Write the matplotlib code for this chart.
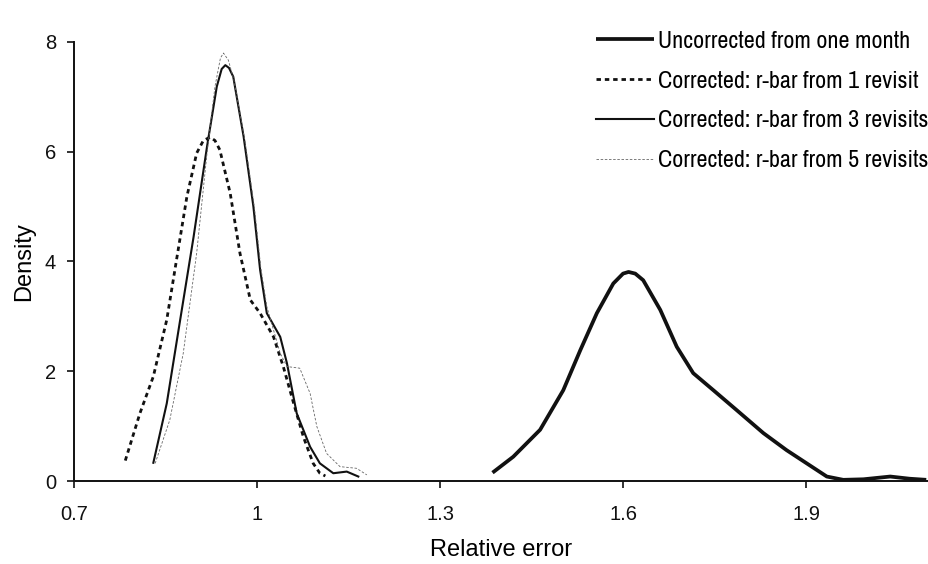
import numpy as np
import matplotlib
matplotlib.use("Agg")
import matplotlib.pyplot as plt
from matplotlib import font_manager

plt.rcParams["font.family"] = ["Liberation Sans", "DejaVu Sans"]

names = sorted({f.name for f in font_manager.fontManager.ttflist})
narrow = [n for n in names if "Narrow" in n or "Condensed" in n]

# ── Density curves (relative error, density) ──
uncorr_x = [1.386, 1.420, 1.464, 1.502, 1.530, 1.557, 1.584, 1.600, 1.609, 1.620,
            1.633, 1.661, 1.688, 1.715, 1.748, 1.786, 1.830, 1.868, 1.901,
            1.934, 1.961, 1.994, 2.038, 2.070, 2.097]
uncorr_y = [0.16, 0.45, 0.94, 1.66, 2.39, 3.06, 3.60, 3.78, 3.81, 3.78,
            3.66, 3.12, 2.45, 1.97, 1.66, 1.30, 0.88, 0.57, 0.33,
            0.09, 0.03, 0.04, 0.09, 0.05, 0.03]

rev1_x = [0.784, 0.808, 0.830, 0.852, 0.868, 0.885, 0.901, 0.912, 0.923, 0.931,
          0.939, 0.956, 0.972, 0.989, 1.005, 1.027, 1.043, 1.060, 1.076,
          1.092, 1.103, 1.112]
rev1_y = [0.38, 1.24, 1.91, 2.94, 4.03, 5.18, 5.97, 6.20, 6.26, 6.20,
          6.03, 5.24, 4.15, 3.30, 3.06, 2.63, 2.09, 1.42, 0.81,
          0.33, 0.15, 0.10]

rev3_x = [0.830, 0.852, 0.874, 0.896, 0.918, 0.934, 0.942, 0.948, 0.954, 0.961,
          0.978, 0.994, 1.005, 1.016, 1.038, 1.049, 1.065, 1.087, 1.103,
          1.125, 1.147, 1.166]
rev3_y = [0.34, 1.42, 2.94, 4.45, 6.09, 7.18, 7.50, 7.57, 7.52, 7.36,
          6.27, 5.00, 3.85, 3.06, 2.63, 2.15, 1.24, 0.63, 0.33,
          0.15, 0.18, 0.09]

rev5_x = [0.833, 0.857, 0.879, 0.901, 0.918, 0.931, 0.940, 0.945, 0.953, 0.962,
          0.980, 0.996, 1.006, 1.016, 1.038, 1.049, 1.070, 1.087, 1.098,
          1.114, 1.136, 1.163, 1.180]
rev5_y = [0.33, 1.12, 2.33, 4.15, 5.97, 7.18, 7.70, 7.79, 7.66, 7.30,
          6.20, 4.95, 3.90, 3.18, 2.33, 2.09, 2.06, 1.60, 1.00,
          0.51, 0.27, 0.24, 0.12]

labels = ["Uncorrected from one month",
          "Corrected: r-bar from 1 revisit",
          "Corrected: r-bar from 3 revisits",
          "Corrected: r-bar from 5 revisits"]

x_ticks = [0.7, 1.0, 1.3, 1.6, 1.9]
x_tick_labels = ["0.7", "1", "1.3", "1.6", "1.9"]
y_ticks = [0, 2, 4, 6, 8]

fig = plt.figure(figsize=(9.29, 5.64), dpi=100)
ax = fig.add_axes([0.0797, 0.1463, 0.9193, 0.7801])

ax.plot(uncorr_x, uncorr_y, color="#111111", lw=2.7, label=labels[0],
        solid_capstyle="butt")
ax.plot(rev1_x, rev1_y, color="#111111", lw=2.0, ls=(0, (1.6, 1.4)),
        label=labels[1])
ax.plot(rev3_x, rev3_y, color="#111111", lw=1.5, label=labels[2])
ax.plot(rev5_x, rev5_y, color="#666666", lw=0.6, ls=(0, (3, 2)),
        label=labels[3])

ax.set_xlim(0.7, 2.1)
ax.set_ylim(0, 8)
ax.set_xticks(x_ticks)
ax.set_xticklabels(x_tick_labels)
ax.set_yticks(y_ticks)
ax.spines["top"].set_visible(False)
ax.spines["right"].set_visible(False)
for s in ("left", "bottom"):
    ax.spines[s].set_linewidth(1.4)
    ax.spines[s].set_color("#111111")
ax.tick_params(axis="both", direction="out", length=5, width=1.2,
               labelsize=14.5, colors="#111111")
ax.tick_params(axis="x", pad=12)
ax.tick_params(axis="y", pad=8)

ax.set_xlabel("Relative error", fontsize=17, labelpad=11)
ax.set_ylabel("Density", fontsize=17, labelpad=7)

legend_family = narrow[0] if narrow else "Liberation Sans"
ax.legend(loc="upper right", bbox_to_anchor=(1.012, 1.046), frameon=False,
          prop={"family": legend_family, "size": 17.3},
          handlelength=2.4, handletextpad=0.2,
          labelspacing=0.78, borderaxespad=0.0)

fig.savefig("out.png", dpi=100)
